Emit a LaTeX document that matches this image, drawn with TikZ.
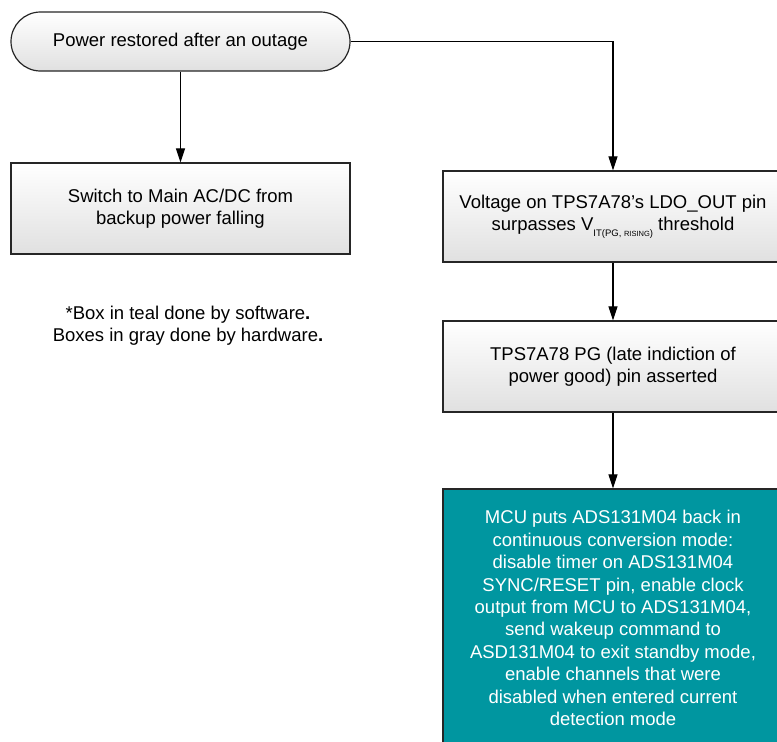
\documentclass[tikz,border=0pt]{standalone}
\usepackage{fontspec}
\setmainfont{Liberation Sans}
\usetikzlibrary{positioning,arrows.meta}
\definecolor{tealbox}{RGB}{0,150,160}

\begin{document}
\begin{tikzpicture}[x=1pt,y=-1pt,
  every node/.style={font=\fontsize{18.5}{22.4}\selectfont, align=center, inner sep=0pt},
  hwbox/.style={draw=black!85, line width=1.2pt, top color=white, bottom color=black!12,
    minimum width=340pt, minimum height=91pt},
  startbox/.style={hwbox, rounded corners=29.5pt, minimum width=339pt, minimum height=59pt},
  swbox/.style={draw=black!85, line width=1.2pt, fill=tealbox, text=white,
    minimum width=340pt, minimum height=258pt},
  flow/.style={line width=1.1pt, -{Triangle[length=14pt,width=9pt]}}]
\useasboundingbox (0,0) rectangle (777,742);
\clip (0,0) rectangle (777,742);
% left column
\node[startbox] (restored) at (180.5,41.5) {Power restored after an outage};
\node[hwbox, minimum width=339pt] (switchmain) at (180.5,208.5) {Switch to Main AC/DC from\\backup power falling};
\node (note) at (188,326) {*Box in teal done by software\textbf{.}\\Boxes in gray done by hardware\textbf{.}};
% right column
\node[hwbox] (ldoout) at (613,216.5) {Voltage on TPS7A78's LDO\_OUT pin\\surpasses V\raisebox{-0.6ex}{\fontsize{9.5}{9.5}\selectfont IT(PG, {\fontsize{7.5}{7.5}\selectfont RISING})} threshold};
\node[hwbox] (pgpin) at (613,366.5) {TPS7A78 PG (late indiction of\\power good) pin asserted};
\node[swbox] (mcuwake) at (613,618) {MCU puts ADS131M04 back in\\continuous conversion mode:\\disable timer on ADS131M04\\SYNC/RESET pin, enable clock\\output from MCU to ADS131M04,\\send wakeup command to\\ASD131M04 to exit standby mode,\\enable channels that were\\disabled when entered current\\detection mode};
% connectors
\draw[flow] (restored) -- (switchmain);
\draw[flow] (restored.east) -| (ldoout.north);
\draw[flow] (ldoout) -- (pgpin);
\draw[flow] (pgpin) -- (mcuwake);
\end{tikzpicture}
\end{document}
